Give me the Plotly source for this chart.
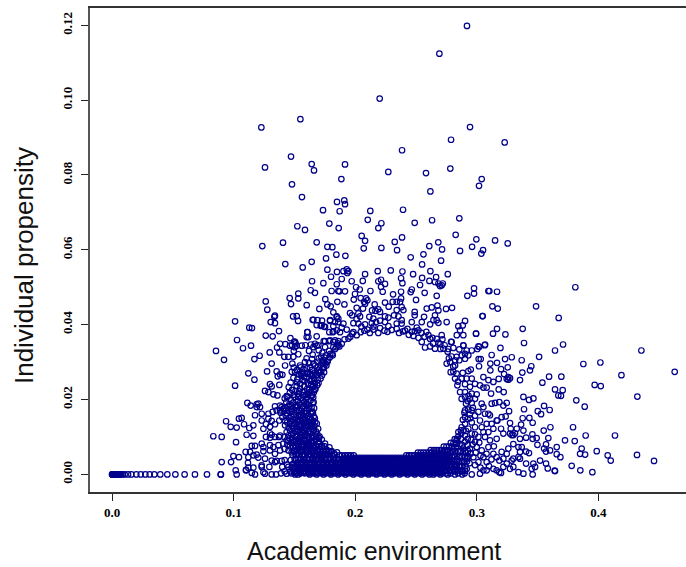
import plotly.graph_objects as go

# Points lying on the zero line (left tail)
zero_x = [0,.0003,.0006,.0009,.0012,.0015,.0018,.0021,.0024,.0027,.003,.0034,.0038,.0042,.0047,.0052,.0057,.0063,.0072,.0085,.0104,.0132,.0159,.02,.0236,.0274,.031,.0348,.0397,.0455,.0521,.0597,.0682,.0781,.0893]

# Sparse points high above the ring
upper_pts = [(.2201,.1004),(.1549,.0949),(.1228,.0927),(.1472,.0849),(.1258,.082),(.1642,.0829),(.1661,.0812),(.1916,.0828),(.2272,.0808),(.1886,.0789),(.148,.0775),(.1562,.0741),(.191,.0732),(.185,.0728),(.1916,.0722),(.1735,.0706),(.1872,.0703),(.2124,.0704),(.2103,.068),(.2215,.0671),(.219,.0658),(.1787,.067),(.1524,.0663),(.1587,.0653),(.1864,.0658),(.2053,.0637),(.2081,.0624),(.1236,.061),(.1406,.0619),(.1683,.062),(.1771,.0608),(.1812,.0607),(.207,.0604),(.2215,.0605),
(.2919,.1198),(.2692,.1124),(.2944,.0928),(.2788,.0894),(.3229,.0887),(.2385,.0866),(.2582,.0805),(.2782,.0817),(.304,.0789),(.3018,.0771),(.2618,.0756),(.2393,.0707),(.2489,.0672),(.2632,.0679),(.2856,.0684),(.2826,.064),(.2996,.0628),(.315,.0625),(.3254,.0617),(.2385,.0633),(.2325,.0621),(.2683,.062),(.2609,.061),(.2961,.0608),(.2714,.0601),(.2344,.0599),(.3051,.0599),(.2862,.0597),
(.1425,.0562),(.1568,.0553),(.1642,.0568),(.176,.0577),(.1845,.0587),(.1771,.0547),(.185,.0541),(.1801,.0528),(.1645,.0516),(.1738,.0511),(.1848,.0508),(.1634,.0492),(.1669,.0485),(.1806,.049),(.1861,.049),(.1461,.0471),(.1532,.0483),(.1532,.047),(.1754,.0468),(.1264,.0462),(.1472,.0455),(.1601,.0452),(.1771,.0454),(.1798,.0449),(.1853,.0461),(.1277,.044),(.1705,.0442),(.182,.0433),(.134,.0424),(.1335,.0421),(.1489,.0422),(.1519,.0423),(.153,.041),(.1305,.0407),(.134,.0404),(.1012,.0409),(.1656,.0413),(.1689,.0412),(.1727,.0411),(.1683,.0399),(.1716,.0397),(.1743,.0395),(.1793,.041),(.1848,.0422),(.1834,.0407),(.182,.0396),(.1787,.038),(.182,.0382),(.1861,.0407),(.1129,.0392),(.1151,.0391),(.1373,.0383),(.1606,.038),(.1615,.0367),(.1683,.0369),(.1264,.0371),(.1321,.0369),(.1467,.0364),(.1028,.0359),(.1143,.0344),(.1077,.0337),(.0855,.033),(.1382,.0349),(.1425,.0348),(.1357,.0339),(.1297,.0326),(.1376,.0326),(.159,.0345),(.1636,.0347),(.1669,.0349),(.1697,.0345),(.1741,.0356),(.1787,.0356),(.182,.0354),(.1861,.0356),
(.1498,.0355),(.1509,.0350),(.1481,.0345),(.1503,.0340),(.1495,.0330)]

# Upper centre, above the hole
centre_pts = [(.1919,.0584),(.2456,.058),(.2561,.0588),(.3037,.059),(.255,.0561),(.2706,.0571),(.1903,.0543),(.193,.0548),(.1944,.0543),(.1935,.0538),(.1889,.0522),(.2081,.0535),(.2185,.0543),(.2292,.0545),(.2388,.0542),(.2476,.0535),(.255,.0525),(.2618,.0543),(.2665,.0527),(.2761,.0535),(.1971,.0516),(.2062,.0517),(.219,.0516),(.2212,.052),(.2377,.0524),(.2388,.0511),(.261,.0517),(.2533,.0506),(.2656,.0514),(.2684,.051),(.2711,.0505),(.2698,.0503),(.272,.051),(.2245,.0509),(.2212,.0501),(.2226,.0488),(.2007,.05),(.2037,.0494),(.187,.0489),(.1916,.0489),(.2125,.049),(.1998,.0482),(.1988,.0467),(.2465,.0494),(.2456,.0487),(.2377,.0488),(.2311,.0481),(.2571,.0485),(.267,.0477),(.2977,.0497),(.2922,.0477),(.2977,.0483),(.3095,.049),(.1911,.0454),(.2045,.0471),(.2089,.047),(.21,.0465),(.2073,.0461),(.2081,.0456),(.2377,.047),(.2369,.0461),(.2341,.0461),(.2308,.0461),(.2275,.0448),(.2245,.0459),(.2382,.0447),(.2341,.0439),(.2396,.0439),(.25,.0466),(.2676,.0451),(.2629,.0446),(.2588,.0443),(.2684,.0438),(.2747,.0442),(.2796,.0445),(.216,.0454),(.219,.0441),(.2166,.0437),(.2204,.0434),(.2138,.0438),(.2012,.0445),(.2064,.0443),(.1957,.0431),(.1974,.0425),(.2026,.043),(.204,.0422),(.2012,.0415),(.1848,.042),(.1861,.0416),(.165,.0413),(.1793,.0412),(.2489,.0434),(.2489,.0425),(.2566,.0421),(.2656,.0425),(.2643,.0412),(.267,.0412),(.2684,.0405),(.2319,.0425),(.2355,.0422),(.2382,.0412),(.2341,.0403),(.2245,.0422),(.2273,.0419),(.2245,.0407),(.2204,.0411),(.2116,.0421),(.2149,.0416),(.2171,.0407),(.2136,.0404),(.2465,.0407),(.2547,.0407),(.2616,.0401),(.2752,.0407),(.2903,.041),(.2884,.0398),(.2848,.0396),(.3046,.0423),(.2081,.0401),(.2026,.0403),(.1985,.0404),(.1903,.0403),(.1724,.0398),(.1752,.0394),(.1848,.0385),(.1889,.0392),(.1875,.038),(.1815,.038),(.193,.0387),(.1985,.038),(.2045,.038),(.21,.0387),(.2149,.0387),(.2204,.0391),(.2273,.0396),(.2341,.0389),(.2382,.0403),(.2429,.0389),(.241,.0384),(.2506,.0392),(.252,.0385),(.2602,.0372),(.2616,.0362),(.267,.0362),(.2711,.0372),(.2717,.0361),(.2835,.0372),(.2862,.0385),(.2889,.0372),(.2994,.0376),(.2478,.037),(.252,.0365),(.2547,.0354),(.2793,.0354),(.2889,.0344),(.3068,.0347),(.3013,.0342),(.2725,.0336),(.2656,.0336),(.2574,.0339),(.2616,.0342),(.1607,.038),(.1601,.0367),(.1505,.0354),(.1519,.0344),(.1464,.0344),(.156,.0344),(.1683,.0344),(.1656,.034),(.1752,.0356),(.1793,.0358),(.1834,.0358),(.1889,.0349),(.182,.034),(.1752,.034),(.1944,.0363),
(.1700,.0332),(.1730,.0325),(.1760,.0318),(.1785,.0330),(.1812,.0322),(.1835,.0335),(.1860,.0345),(.1775,.0305),(.1745,.0300),(.1700,.0310),(.1650,.0320),(.1620,.0330),(.2190,.0378),(.2240,.0384),(.2300,.0386),(.2360,.0378),(.2150,.0395),(.1960,.0368),(.2050,.0395),(.2440,.0373),(.2490,.0383),(.2570,.0368),(.2640,.0350),(.2700,.0348),
(.1790,.0312),(.1815,.0318),(.1845,.0340),(.1870,.0342),(.1912,.0361),(.1975,.0376),(.2012,.0372),(.2075,.0384),(.2120,.0378),(.2265,.0381),(.2392,.0382),(.2465,.0381),(.2545,.0378),(.2585,.0381),(.2635,.0365),(.2685,.0352),(.2735,.0345),(.2760,.0328),(.2700,.0335)]

# Right-hand scatter
right_pts = [(.381,.05),(.3487,.0449),(.3673,.0418),(.3103,.049),(.3166,.0488),(.3128,.0449),(.3172,.0443),(.3048,.0423),(.3377,.0389),(.3166,.0389),(.3133,.0376),(.3235,.0374),(.2993,.0376),(.3388,.0351),(.3194,.0338),(.3065,.0345),(.3021,.0341),(.3004,.0335),(.3709,.0347),(.3643,.0331),(.4353,.0331),(.3512,.0314),(.3369,.0305),(.3287,.0313),(.3232,.0308),(.3122,.0319),(.3032,.0308),(.3015,.0308),(.3018,.0289),(.3166,.0298),(.3111,.0296),(.3876,.0295),(.4016,.0299),(.4627,.0274),(.4189,.0265),(.3448,.0289),(.3437,.0278),(.3374,.0272),(.3355,.0252),(.3254,.0286),(.3199,.0281),(.3224,.0268),(.3111,.0278),(.3259,.026),(.3273,.0257),(.3246,.0255),(.3259,.0253),(.318,.0255),(.3594,.0261),(.3695,.0261),(.3539,.0245),(.3643,.0227),(.3706,.0225),(.367,.0211),(.3692,.021),(.3969,.0239),(.4019,.0236),(.432,.0208),(.3818,.0198),(.3887,.0181),(.3383,.0207),(.3429,.0199),(.3465,.0203),(.3553,.0183),(.3501,.0169),(.3528,.0161),(.3599,.0172),(.3388,.0174),(.3221,.022),(.318,.0227),(.3117,.0216),(.3246,.0191),(.3185,.0193),(.3218,.0184),(.315,.0191),(.3122,.0189),(.3265,.0169),(.3237,.0155),(.3204,.0153),(.3169,.0144),(.3377,.015),(.3432,.0151),(.3459,.0138),(.3273,.0137),(.3279,.0122),(.3364,.0133),(.3383,.0117),(.3328,.0122),(.3273,.0109),(.3287,.0105),(.33,.0105),(.3314,.011),(.3605,.0126),(.355,.0117),(.3588,.0097),(.3791,.0126),(.3895,.0104),(.4136,.0104),(.3725,.0091),(.3805,.0089),(.3457,.0107),(.3459,.0095),(.3492,.0097),(.3405,.0098),(.3355,.0095),(.3498,.0079),(.3569,.008),(.3657,.0073),(.3602,.0064),(.3553,.0069),(.3569,.0061),(.3862,.0069),(.3849,.0055),(.389,.0053),(.3986,.0062),(.3657,.0054),(.3687,.0046),(.4076,.0051),(.4101,.0037),(.4317,.0052),(.4457,.0036),(.352,.0037),(.3569,.0029),(.3583,.0016),(.3405,.0029),(.3465,.0029),(.3479,.002),(.3451,.0015),(.3459,.0),(.364,.001),(.3643,.0009),(.378,.0023),(.3851,.0011),(.395,.0006),(.3383,.0002),(.3342,.0006),(.33,.0081),(.3342,.0073),(.3369,.0073),(.3405,.0061),(.3429,.0057),(.3355,.006),(.3342,.0046),(.3355,.0042),(.3259,.0069),(.3204,.006),(.3246,.0055),(.3218,.0042),(.3287,.0037),(.33,.0042),(.3246,.0029),(.33,.002),(.3218,.002),(.3273,.0015),(.3136,.0055),(.3163,.0046),(.3185,.0037),(.3136,.0015),(.3163,.0011),(.3199,.0004),(.3185,.0006),
(.2788,.0354),(.2807,.0338),(.2856,.0334),(.2889,.0345),(.2917,.0331),(.2958,.0331),(.2793,.0315),(.2834,.0314),(.2876,.0318),(.2903,.0322),(.293,.0318),(.2752,.0296),(.278,.03),(.2821,.0305),(.2856,.0305),(.2903,.0309),(.2821,.0291),(.2807,.0274),(.2785,.0273),(.2834,.0269),(.2884,.0271),(.293,.0276),(.295,.028),(.2821,.0256),(.2875,.0256),(.2917,.0256),(.2958,.0256),(.2985,.0242),(.3054,.026),(.3095,.0252),(.284,.0238),(.2903,.0241),(.2944,.0234),(.3026,.0238),(.3054,.0232),(.3081,.0232),(.3136,.0247),(.2862,.022),(.2903,.022),(.2958,.0216),(.2999,.0214),(.2903,.0207),(.2875,.0202),(.2944,.0202),(.2985,.0202),(.2911,.0189),(.293,.0173),(.2958,.0191),(.304,.0189),(.3054,.018),(.2903,.0171),(.2958,.0171),(.3013,.0167),(.3067,.0162),(.3095,.0162),(.3108,.0158),(.3163,.0144),(.3026,.0144),(.2985,.0157),(.2958,.0139),(.2903,.0153),(.2903,.0135),(.293,.0122),(.2875,.0126),(.2985,.0126),(.304,.0126),(.3081,.0135),(.3122,.0135),(.3136,.0122),(.3095,.0113),(.3199,.0122),(.3218,.0109),(.3163,.0095),(.3108,.0091),(.3054,.0113),(.3067,.01),(.3013,.01),(.2958,.0109),(.2903,.0104),(.2848,.0113),(.2985,.0087),(.2903,.0087),(.3095,.0073),(.304,.0064),(.2999,.0073),(.2944,.0069),(.2889,.0069),(.2834,.0082),(.2807,.0069),(.2752,.0064),(.3054,.0046),(.3013,.0033),(.3081,.0033),(.2971,.0046),(.2917,.0042),(.2862,.0046),(.2807,.0051),(.2752,.0042),(.3054,.0011),(.3081,.0011),(.3026,.0002),(.2958,.0),(.2917,.0015),(.2862,.002),(.2807,.0015),(.2752,.0011),(.2697,.0024),(.2643,.0),(.2588,.0011),
(.2925,.0148),(.2942,.0160),(.2890,.0118),(.2925,.0095),(.2955,.0092),(.2870,.0095),(.2880,.0078),(.2925,.0078),(.2965,.0080),(.3020,.0085),(.2860,.0062),(.2910,.0058),(.2950,.0056),(.2990,.0058),(.3030,.0050),(.2840,.0040),(.2895,.0032),(.2940,.0030),(.2985,.0025),(.3030,.0018),(.3100,.0022),(.3120,.0040),(.3140,.0075),(.3080,.0055),(.2985,.0107),
(.2848,.0102),(.2868,.0118),(.2885,.0146),(.2898,.0165),(.2925,.0196),(.2838,.0091),(.2858,.0081),(.2826,.0072),(.2872,.0110),(.2912,.0116),(.2945,.0150),(.2968,.0178),(.2932,.0210),(.2845,.0248),(.2806,.0288),(.2770,.0310),(.2765,.0335)]

# Left-hand scatter
left_pts = [(.0921,.0306),(.1171,.0308),(.1214,.0317),(.1313,.0296),(.1423,.0291),(.1417,.0314),(.145,.0314),(.1491,.0314),(.1532,.0321),(.1121,.027),(.1275,.0275),(.1171,.0253),(.1354,.0275),(.1382,.0267),(.1401,.0266),(.1363,.0262),(.1483,.0296),(.1546,.0291),(.1587,.03),(.1656,.0296),(.1478,.0274),(.1505,.0274),(.156,.0269),(.1601,.0269),(.1656,.0265),(.1711,.0274),(.1738,.0287),(.1012,.0237),(.1299,.0241),(.1313,.0235),(.1376,.0239),(.1258,.0223),(.1286,.022),(.1327,.0214),(.136,.0211),(.1436,.0209),(.1113,.0191),(.114,.0184),(.119,.0187),(.1203,.0189),(.119,.018),(.1217,.018),(.134,.0182),(.1382,.0184),(.1395,.018),(.1409,.0176),(.1382,.0171),(.1354,.0171),(.1176,.0158),(.1231,.0162),(.1286,.0162),(.1321,.0167),(.1286,.0149),(.1044,.0149),(.1066,.0151),(.0938,.0142),(.0976,.0127),(.1025,.0125),(.1086,.0134),(.1162,.0131),(.1129,.0124),(.1231,.0144),(.1266,.0134),(.1313,.0143),(.134,.0134),(.1376,.0144),(.1423,.0144),(.1423,.0131),(.1299,.0127),(.1245,.0122),(.0833,.0102),(.0902,.01),(.1107,.0106),(.1162,.0103),(.1299,.011),(.1313,.0106),(.1382,.0104),(.1266,.01),(.1299,.0098),(.134,.01),(.1373,.01),(.102,.0086),(.1149,.0076),(.1176,.0076),(.1231,.0082),(.1245,.0073),(.1299,.0078),(.1327,.0073),(.1368,.0078),(.1409,.0082),(.1436,.0091),(.0998,.0049),(.1044,.0046),(.1099,.006),(.1135,.006),(.119,.0053),(.1245,.0062),(.1299,.0064),(.134,.0055),(.1382,.0064),(.0902,.0033),(.0979,.0033),(.1121,.0046),(.1162,.0051),(.1203,.0045),(.1258,.0042),(.1313,.0037),(.1354,.0036),(.1118,.0031),(.1231,.0024),(.1294,.002),(.134,.0033),(.1395,.0036),(.1017,.0011),(.1102,.0012),(.1121,.0018),(.1162,.0018),(.1231,.002),(.0896,0),(.1025,0),(.1102,.0011),(.1149,.0004),(.1176,0),(.1245,.0006),(.1258,.0002),(.1313,0),(.1349,0),(.1436,.0002),(.1505,0),(.1532,0)]

# Crowded column to the left of the hole, read as closely as the overlap allows
column_pts = [(.1495,.0285),(.1522,.0279),(.1551,.0286),(.1574,.0281),(.1602,.0283),(.1627,.0286),(.1646,.0279),(.1671,.0291),(.1692,.0286),(.1716,.0293),(.1741,.0284),(.1763,.0291),(.1689,.0301),(.1736,.0305),(.1758,.0296),
(.1553,.0264),(.1572,.0271),(.1598,.0259),(.1628,.0268),(.1660,.0256),(.1685,.0266),(.1704,.0271),(.1726,.0264),(.1744,.0273),(.1691,.0252),(.1715,.0256),(.1698,.0244),(.1688,.0238),(.1669,.0244),(.1642,.0251),(.1611,.0243),(.1583,.0249),(.1548,.0242),(.1524,.0254),(.1492,.0258),(.1469,.0245),
(.1453,.0233),(.1481,.0226),(.1519,.0236),(.1547,.0229),(.1581,.0235),(.1622,.0226),(.1649,.0233),(.1673,.0228),(.1462,.0218),(.1509,.0223),(.1534,.0215),(.1566,.0220),(.1592,.0212),(.1618,.0219),(.1645,.0211),(.1661,.0220),(.1420,.0203),(.1445,.0208),(.1471,.0199),(.1501,.0206),(.1526,.0197),(.1553,.0204),(.1579,.0193),(.1606,.0207),(.1633,.0198),(.1655,.0206),(.1433,.0193),(.1459,.0188),(.1489,.0192),(.1515,.0186),(.1543,.0190),(.1571,.0182),(.1596,.0189),(.1622,.0182),(.1650,.0191),(.1427,.0177),(.1452,.0182),(.1481,.0175),(.1508,.0179),(.1536,.0172),(.1563,.0176),(.1591,.0170),(.1619,.0175),(.1645,.0168),(.1662,.0177),
(.1386,.0165),(.1413,.0169),(.1441,.0163),(.1469,.0167),(.1497,.0160),(.1525,.0165),(.1552,.0158),(.1581,.0163),(.1608,.0156),(.1636,.0162),(.1659,.0155),(.1401,.0153),(.1429,.0157),(.1457,.0151),(.1484,.0148),(.1513,.0152),(.1541,.0146),(.1569,.0150),(.1597,.0144),(.1624,.0148),(.1652,.0142),(.1668,.0150),(.1441,.0139),(.1469,.0143),(.1497,.0136),(.1525,.0140),(.1553,.0133),(.1581,.0137),(.1609,.0130),(.1637,.0135),(.1664,.0129),(.1684,.0136),(.1452,.0125),(.1481,.0129),(.1509,.0122),(.1537,.0126),(.1565,.0119),(.1593,.0124),(.1621,.0117),(.1649,.0122),(.1677,.0115),(.1695,.0122),(.1436,.0113),(.1464,.0117),(.1492,.0110),(.1520,.0114),(.1548,.0106),(.1576,.0111),(.1604,.0104),(.1632,.0109),(.1660,.0102),(.1688,.0108),(.1707,.0101),
(.1416,.0100),(.1449,.0104),(.1479,.0097),(.1506,.0101),(.1534,.0094),(.1562,.0098),(.1590,.0091),(.1618,.0096),(.1646,.0090),(.1674,.0094),(.1702,.0088),(.1725,.0093),(.1451,.0089),(.1476,.0085),(.1501,.0090),(.1526,.0083),(.1551,.0087),(.1576,.0081),(.1601,.0085),(.1626,.0079),(.1651,.0083),(.1676,.0077),(.1701,.0081),(.1726,.0075),(.1752,.0082),(.1441,.0079),(.1463,.0075),(.1489,.0071),(.1513,.0076),(.1538,.0069),(.1563,.0073),(.1589,.0066),(.1613,.0071),(.1639,.0065),(.1663,.0069),(.1689,.0063),(.1713,.0067),(.1739,.0061),(.1765,.0066),(.1788,.0072),(.1419,.0068),(.1451,.0064),(.1477,.0059),(.1501,.0063),(.1526,.0056),(.1551,.0060),(.1576,.0054),(.1601,.0058),(.1626,.0052),(.1651,.0056),(.1676,.0050),(.1701,.0054),(.1726,.0048),(.1751,.0052),(.1776,.0055),(.1801,.0060),(.1826,.0056),(.1850,.0059)]

# Second pass over the same crowded column
column_extra = [(.1523,.0246),(.1567,.0252),(.1604,.0228),(.1638,.0241),(.1666,.0226),(.1574,.0212),(.1611,.0216),(.1540,.0222),(.1633,.0209),(.1658,.0193),(.1597,.0201),(.1568,.0197),(.1531,.0207),(.1494,.0213),(.1612,.0186),(.1583,.0183),(.1641,.0179),(.1556,.0169),(.1527,.0181),(.1601,.0164),(.1630,.0153),(.1572,.0158),(.1541,.0157),(.1511,.0171),(.1479,.0184),(.1652,.0165),(.1618,.0141),(.1587,.0147),(.1560,.0142),(.1530,.0147),(.1503,.0145),(.1475,.0155),(.1451,.0171),(.1642,.0146),(.1671,.0140),(.1632,.0126),(.1603,.0133),(.1575,.0128),(.1545,.0130),(.1518,.0128),(.1490,.0124),(.1465,.0134),(.1660,.0119),(.1612,.0112),(.1586,.0116),(.1558,.0113),(.1531,.0117),(.1503,.0115),(.1475,.0108),(.1678,.0104),(.1644,.0101),(.1615,.0099),(.1587,.0104),(.1560,.0104),(.1543,.0097),(.1513,.0093),(.1486,.0092),(.1460,.0096),(.1702,.0097),(.1664,.0087),(.1636,.0087),(.1611,.0081),(.1579,.0093),(.1558,.0079),(.1720,.0275),(.1695,.0277),(.1668,.0272),(.1640,.0265),(.1735,.0296),(.1772,.0301),(.1720,.0315),(.1748,.0312),(.1795,.0322),(.1855,.0350),(.1620,.0298),(.1600,.0310),(.1645,.0308),(.1580,.0260),(.1615,.0272),(.1535,.0268),(.1630,.0250),(.1655,.0236)]

# Solid band under the hole: (y, x values)
band_rows = [
 (.0094,[.2818,.2835]),
 (.0084,[.2786,.2808,.2826]),
 (.0074,[.2728,.2750,.2772,.2794]),
 (.0065,[.2620,.2645,.2668,.2690,.2712,.2735,.2758]),
 (.0058,[.2515,.2538,.2561,.2584,.2607,.2630,.2653,.2676,.2699,.2722]),
 (.0051,[.1868,.1892,.1916,.1940,.1964,.1988,.2420,.2442,.2465,.2488,.2511,.2534,.2557,.2580,.2603,.2626,.2649,.2672,.2695,.2718,.2741]),
 (.0044,[.1905,.1930,.1955,.1980,.2005,.2030,.2055,.2080,.2105,.2130,.2155,.2180,.2205,.2230,.2255,.2280,.2305,.2330,.2355,.2380,.2405,.2430,.2455,.2480,.2505,.2530,.2555,.2580,.2605,.2630,.2655,.2680,.2705,.2730,.2755,.2780]),
 (.0038,[.1420,.1470,.1510,.1545,.1580,.1615,.1650,.1685,.1720,.1755,.1790,.1825,.1860,.1893,.1918,.1943,.1968,.1993,.2018,.2043,.2068,.2093,.2118,.2143,.2168,.2193,.2218,.2243,.2268,.2293,.2318,.2343,.2368,.2393,.2418,.2443,.2468,.2493,.2518,.2543,.2568,.2593,.2618,.2643,.2668,.2693,.2718,.2743,.2768,.2793]),
 (.0032,[.1530,.1562,.1597,.1632,.1667,.1702,.1737,.1772,.1807,.1842,.1877,.1905,.1930,.1955,.1980,.2005,.2030,.2055,.2080,.2105,.2130,.2155,.2180,.2205,.2230,.2255,.2280,.2305,.2330,.2355,.2380,.2405,.2430,.2455,.2480,.2505,.2530,.2555,.2580,.2605,.2630,.2655,.2680,.2705,.2730,.2755,.2780]),
 (.0026,[.1440,.1480,.1520,.1555,.1590,.1625,.1660,.1695,.1730,.1765,.1800,.1835,.1870,.1898,.1923,.1948,.1973,.1998,.2023,.2048,.2073,.2098,.2123,.2148,.2173,.2198,.2223,.2248,.2273,.2298,.2323,.2348,.2373,.2398,.2423,.2448,.2473,.2498,.2523,.2548,.2573,.2598,.2623,.2648,.2673,.2698,.2723,.2748,.2775,.2825]),
 (.0020,[.1400,.1450,.1490,.1530,.1565,.1600,.1635,.1670,.1705,.1740,.1775,.1810,.1845,.1880,.1910,.1935,.1960,.1985,.2010,.2035,.2060,.2085,.2110,.2135,.2160,.2185,.2210,.2235,.2260,.2285,.2310,.2335,.2360,.2385,.2410,.2435,.2460,.2485,.2510,.2535,.2560,.2585,.2610,.2635,.2665,.2725,.2755,.2785,.2835]),
 (.0014,[.1545,.1580,.1615,.1650,.1685,.1720,.1755,.1790,.1825,.1860,.1893,.1918,.1943,.1968,.1993,.2018,.2043,.2068,.2093,.2118,.2143,.2168,.2193,.2218,.2243,.2268,.2293,.2318,.2343,.2368,.2393,.2418,.2443,.2468,.2493,.2518,.2543,.2568,.2593,.2618,.2643]),
 (.0008,[.1420,.1465,.1500,.1540,.1575,.1610,.1645,.1680,.1715,.1750,.1785,.1820,.1855,.1890,.1925,.1950,.1975,.2000,.2025,.2050,.2075,.2100,.2125,.2150,.2175,.2200,.2225,.2250,.2275,.2300,.2325,.2350,.2375,.2400,.2425,.2450,.2475,.2500,.2525,.2555,.2615,.2645,.2675,.2705,.2735,.2775,.2825,.2885]),
 (.0003,[.1390,.1475,.1515,.1550,.1585,.1620,.1655,.1690,.1725,.1760,.1795,.1830,.1865,.1900,.1935,.1965,.1995,.2025,.2055,.2085,.2115,.2145,.2175,.2205,.2235,.2265,.2295,.2325,.2355,.2385,.2415,.2445,.2475,.2505,.2535,.2565,.2595,.2625,.2655,.2685,.2715,.2745,.2785,.2845,.2900]),
 (.0000,[.1625,.1683,.1740,.1800,.1860,.1920,.1985,.2050,.2110,.2175,.2240,.2300,.2365,.2430,.2490,.2550,.2610,.2700,.2760,.2820,.2880]),
]

# Second pass over the solid band, offset between the first-pass rows
band_extra_rows = [
 (.0075,[.1487,.1509,.1534,.1558,.1581,.1606,.1629,.1653,.1677,.1702,.1726,.1749]),
 (.0062,[.1494,.1518,.1543,.1566,.1591,.1614,.1639,.1662,.1687,.1710,.1735,.1758,.1782,.1806,.2735,.2763,.2791,.2818,.2846,.2873,.2901,.2928]),
 (.0052,[.1484,.1512,.1538,.1563,.1587,.1612,.1636,.1661,.1685,.1710,.1734,.1759,.1783,.1808,.1832]),
 (.0047,[.2741,.2768,.2795,.2822,.2850,.2877,.2904,.2931]),
 (.0041,[.1502,.1528,.1553,.1577,.1602,.1626,.1651,.1675,.1700,.1724,.1749,.1773,.1798,.1822,.1847,.1871,.1896,.1918,.1943,.1968,.1992,.2017,.2042,.2066,.2091,.2116,.2141,.2165,.2190,.2215,.2239,.2264,.2289,.2313,.2338,.2363,.2388,.2412,.2437,.2462,.2486,.2511,.2536,.2561,.2585,.2610,.2635,.2659,.2684,.2709,.2733]),
 (.0035,[.2757,.2784,.2811,.2838,.2865,.2892,.2919]),
 (.0029,[.1493,.1519,.1544,.1568,.1593,.1617,.1642,.1666,.1691,.1715,.1740,.1764,.1789,.1813,.1838,.1862,.1887,.1909,.1934,.1958,.1983,.2008,.2033,.2057,.2082,.2107,.2131,.2156,.2181,.2206,.2230,.2255,.2280,.2304,.2329,.2354,.2379,.2403,.2428,.2453,.2477,.2502,.2527,.2552,.2576,.2601,.2626,.2650,.2675,.2700,.2724]),
 (.0022,[.2748,.2773,.2799,.2826,.2853,.2880,.2907]),
 (.0017,[.1482,.1508,.1533,.1557,.1582,.1606,.1631,.1655,.1680,.1704,.1729,.1753,.1778,.1802,.1827,.1851,.1876,.1901,.1926,.1951,.1975,.2000,.2025,.2049,.2074,.2099,.2124,.2148,.2173,.2198,.2222,.2247,.2272,.2297,.2321,.2346,.2371,.2395,.2420,.2445,.2470,.2494,.2519,.2544,.2568,.2593,.2618,.2642,.2667,.2692,.2716]),
 (.0010,[.2741,.2768,.2795,.2822,.2849,.2876,.2903]),
 (.0005,[.1494,.1520,.1546,.1570,.1595,.1619,.1644,.1668,.1693,.1717,.1742,.1766,.1791,.1815,.1840,.1864,.1889,.1914,.1938,.1963,.1988,.2012,.2037,.2062,.2087,.2111,.2136,.2161,.2185,.2210,.2235,.2260,.2284,.2309,.2334,.2358,.2383,.2408,.2433,.2457,.2482,.2507,.2531,.2556,.2581,.2606,.2630,.2655,.2680,.2704]),
]

# Axis labels
x_ticks = [0.0, 0.1, 0.2, 0.3, 0.4]
x_tick_text = ["0.0", "0.1", "0.2", "0.3", "0.4"]
y_ticks = [0.0, 0.02, 0.04, 0.06, 0.08, 0.10, 0.12]
y_tick_text = ["0.00", "0.02", "0.04", "0.06", "0.08", "0.10", "0.12"]
x_title = "Academic environment"
y_title = "Individual propensity"

xs = list(zero_x)
ys = [0.0] * len(zero_x)
for pts in (upper_pts, centre_pts, right_pts, left_pts, column_pts, column_extra):
    xs += [p[0] for p in pts]
    ys += [p[1] for p in pts]
for rows in (band_rows, band_extra_rows):
    for y, row in rows:
        xs += row
        ys += [y] * len(row)

fig = go.Figure(go.Scatter(
    x=xs, y=ys, mode="markers", cliponaxis=False,
    marker=dict(symbol="circle-open", size=5.5, color="#00008b", line=dict(width=1.2, color="#00008b")),
))
tick_font = dict(family="Liberation Serif", size=13, color="black", weight="bold")
fig.update_layout(
    width=686, height=567, margin=dict(l=90, r=0, t=8, b=75, autoexpand=False),
    paper_bgcolor="white", plot_bgcolor="white", showlegend=False,
    xaxis=dict(range=[-0.0181, 0.472], tickvals=x_ticks, ticktext=x_tick_text, showgrid=False, zeroline=False,
               showline=True, mirror=True, linecolor="#333333", linewidth=1.5, ticks="outside", ticklen=7, tickwidth=1,
               tickcolor="#222222", tickfont=tick_font, ticklabelstandoff=1),
    yaxis=dict(range=[-0.0047, 0.1246], tickvals=y_ticks, ticktext=y_tick_text, showgrid=False, zeroline=False,
               showline=True, linecolor="#555555", linewidth=1.5, ticks="outside", ticklen=7, tickwidth=1,
               tickcolor="#222222", tickfont=tick_font, tickangle=-90, ticklabelstandoff=4),
    annotations=[
        dict(text=x_title, xref="paper", yref="paper", x=0.4765, y=-0.1219, showarrow=False,
             xanchor="center", yanchor="middle", font=dict(family="Liberation Sans", size=25, color="#111111")),
        dict(text=y_title, xref="paper", yref="paper", x=-0.1107, y=0.4669, showarrow=False, textangle=-90,
             xanchor="center", yanchor="middle", font=dict(family="Liberation Sans", size=26, color="#111111")),
    ],
)
fig.write_html("out.html", config={"displayModeBar": False},
               post_script="document.body.style.margin='0';document.documentElement.style.overflow='hidden';")
